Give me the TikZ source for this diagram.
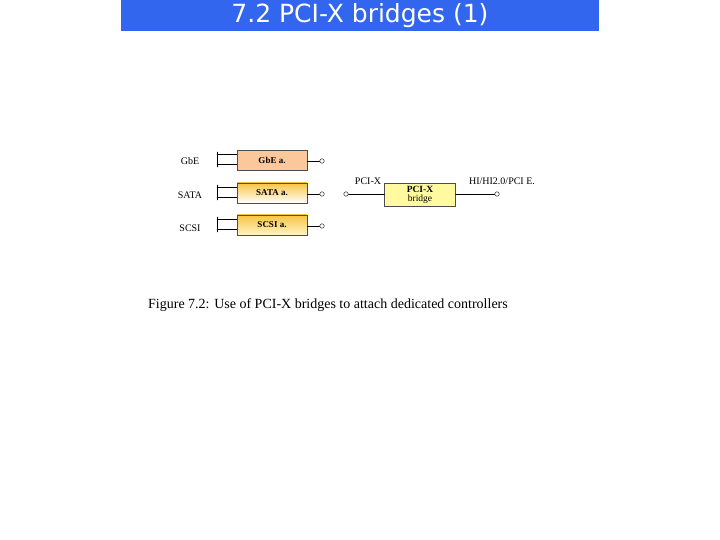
\documentclass[tikz,border=0pt]{standalone}
\usepackage{fontspec}
\setmainfont{Liberation Serif}
\newfontfamily\titlefont{DejaVu Sans}
\definecolor{titleblue}{RGB}{51,102,238}
\definecolor{gbepeach}{RGB}{250,200,155}
\definecolor{adgold}{RGB}{248,196,70}
\definecolor{adpale}{RGB}{255,243,196}
\definecolor{bridgeyellow}{RGB}{255,250,160}
\begin{document}
\begin{tikzpicture}[x=1pt,y=-1pt,line cap=round,
		adapter/.style={draw=black!70,minimum width=70pt,minimum height=20pt,inner sep=0pt,font=\fontsize{9}{10}\selectfont\bfseries},
		gbefill/.style={fill=gbepeach},
		satafill/.style={top color=adgold,bottom color=white},
		scsifill/.style={top color=adgold,bottom color=adpale},
		pin/.style={circle,draw,fill=white,inner sep=0pt,minimum size=4.5pt},
		lbl/.style={font=\fontsize{10}{12}\selectfont}]
	\useasboundingbox (0,0) rectangle (720,540);
	\node[fill=titleblue,text=white,minimum width=478pt,minimum height=31pt,inner sep=0pt,font=\titlefont\fontsize{25}{28}\selectfont] (title) at (360,16) {7.2 PCI-X bridges (1)};
	% adapters
	\foreach \yy/\ly/\nm/\txt/\fl in {160/161/gbe/GbE/gbefill,193/195/sata/SATA/satafill,225/228/scsi/SCSI/scsifill}{
		\node[lbl] (lbl-\nm) at (190,\ly) {\txt};
		\node[adapter,\fl] (box-\nm) at (272,\yy) {\txt\ a.};
		\node[pin] (pin-\nm) at (322,\yy+1) {};
		\draw (box-\nm.east |- pin-\nm) -- (pin-\nm);
		\coordinate (v1-\nm) at (217,\yy-8);
		\coordinate (v2-\nm) at (217,\yy+7);
		\coordinate (s1-\nm) at (217,\yy-6);
		\coordinate (s2-\nm) at (217,\yy+4);
		\draw (v1-\nm) -- (v2-\nm);
		\draw (s1-\nm) -- (box-\nm.west |- s1-\nm);
		\draw (s2-\nm) -- (box-\nm.west |- s2-\nm);
	}
	% bridge
	\node[draw=black!70,fill=bridgeyellow,minimum width=71pt,minimum height=23pt,inner sep=0pt,align=center,font=\fontsize{9.5}{9}\selectfont] (bridge) at (420,194.5) {\textbf{PCI-X}\\bridge};
	\node[pin] (pin-in) at (346,194) {};
	\node[pin] (pin-out) at (497,194) {};
	\draw (pin-in) -- (bridge.west |- pin-in);
	\draw (bridge.east |- pin-out) -- (pin-out);
	\node[lbl] (lbl-in) at (368,181) {PCI-X};
	\node[lbl] (lbl-out) at (502,181) {HI/HI2.0/PCI E.};
	\node[font=\fontsize{14}{16}\selectfont] (caption) at (328,305) {Figure 7.2: Use of PCI-X bridges to attach dedicated controllers};
\end{tikzpicture}
\end{document}
